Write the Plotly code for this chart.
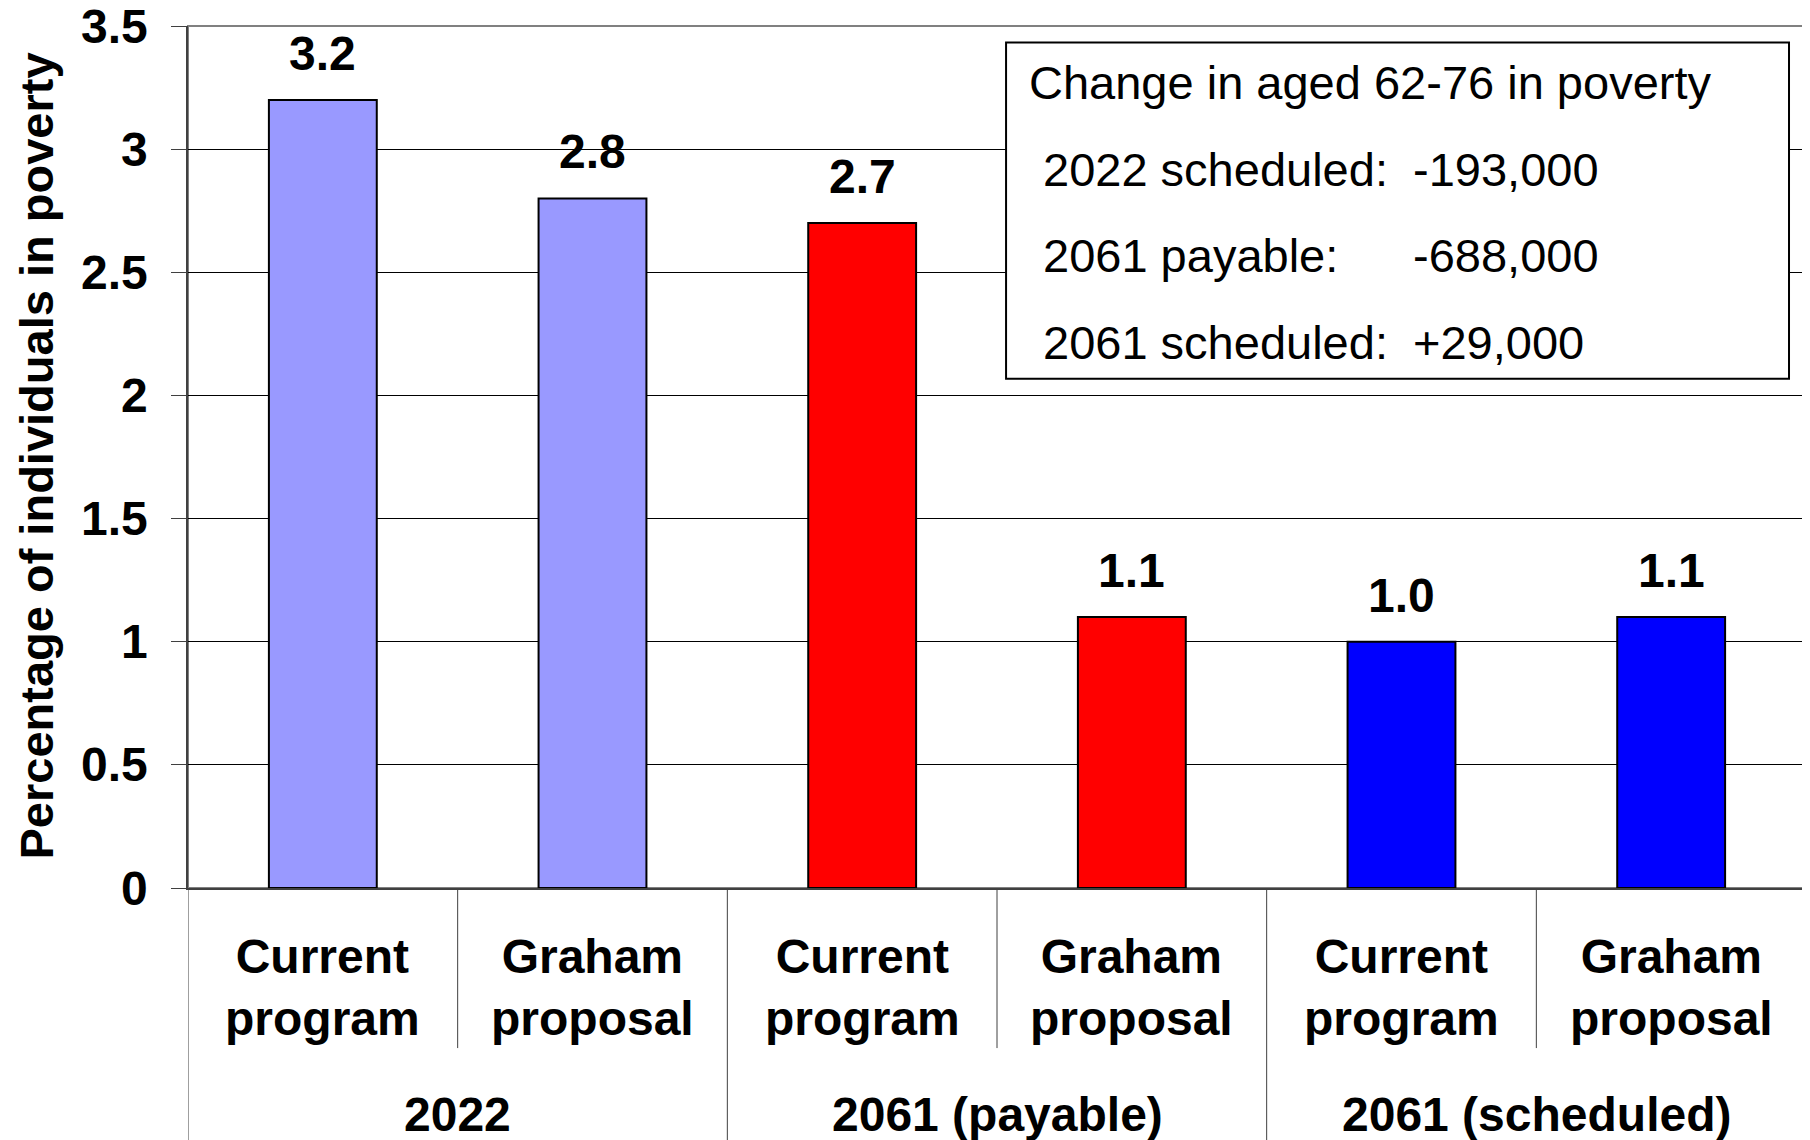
import plotly.graph_objects as go

# data
groups = ['2022', '2061 (payable)', '2061 (scheduled)']
subcats = ['Current<br>program', 'Graham<br>proposal']
values = [3.2, 2.8, 2.7, 1.1, 1.0, 1.1]
value_text = ['3.2', '2.8', '2.7', '1.1', '1.0', '1.1']
group_colors = ['#9999FF', '#FF0000', '#0000FF']
y_ticks = [0, 0.5, 1, 1.5, 2, 2.5, 3, 3.5]

box_title = 'Change in aged 62-76 in poverty'
box_labels = ['2022 scheduled:', '2061 payable:', '2061 scheduled:']
box_values = ['-193,000', '-688,000', '+29,000']

FONT = 'Liberation Sans, Arial, sans-serif'

xs = list(range(len(values)))
colors = [group_colors[i // len(subcats)] for i in xs]

fig = go.Figure()
fig.add_trace(go.Bar(x=xs, y=values, width=0.4,
                     marker=dict(color=colors, line=dict(color='black', width=2)),
                     hoverinfo='y'))

annotations = []
shapes = []

# value labels above bars
for x, v, t in zip(xs, values, value_text):
    annotations.append(dict(x=x, y=v, xref='x', yref='y', text='<b>%s</b>' % t,
                            showarrow=False, yanchor='bottom', yshift=18,
                            font=dict(size=48, color='black', family=FONT)))

# y tick labels (drawn as annotations so the top one is not dropped)
for t in y_ticks:
    annotations.append(dict(x=0, y=t, xref='paper', yref='y', text='<b>%g</b>' % t,
                            showarrow=False, xanchor='right', yanchor='middle',
                            xshift=-38,
                            font=dict(size=48, color='black', family=FONT)))

# category labels
for i, x in enumerate(xs):
    annotations.append(dict(x=x, y=-0.116, xref='x', yref='paper',
                            text='<b>%s</b>' % subcats[i % len(subcats)],
                            showarrow=False, yanchor='middle',
                            font=dict(size=48, color='black', family=FONT)))
    if i % len(subcats) != len(subcats) - 1:
        shapes.append(dict(type='line', xref='x', yref='paper', x0=x + 0.5, x1=x + 0.5,
                           y0=0, y1=-0.1857, line=dict(color='#404040', width=1)))

# group labels and group separators
n = len(subcats)
for g, name in enumerate(groups):
    annotations.append(dict(x=g * n + (n - 1) / 2, y=-0.2623, xref='x', yref='paper',
                            text='<b>%s</b>' % name, showarrow=False, yanchor='middle',
                            font=dict(size=48, color='black', family=FONT)))
for g in range(len(groups) + 1):
    xx = g * n - 0.5
    shapes.append(dict(type='line', xref='x', yref='paper', x0=xx, x1=xx,
                       y0=0, y1=-0.3, line=dict(color='#404040', width=1)))

# plot border (top/right grey)
shapes.append(dict(type='rect', xref='paper', yref='paper', x0=0, x1=1, y0=0, y1=1,
                   line=dict(color='#808080', width=2), layer='below'))

# info box
shapes.append(dict(type='rect', xref='paper', yref='paper', x0=0.5056, x1=0.9895,
                   y0=0.5908, y1=0.981, line=dict(color='black', width=2),
                   fillcolor='white'))
annotations.append(dict(x=0.5185, y=0.9344, xref='paper', yref='paper', text=box_title,
                        showarrow=False, xanchor='left', yanchor='middle',
                        font=dict(size=47, color='black', family=FONT)))
box_y = [0.8334, 0.7336, 0.6326]
for lab, val, yy in zip(box_labels, box_values, box_y):
    annotations.append(dict(x=0.5272, y=yy, xref='paper', yref='paper', text=lab,
                            showarrow=False, xanchor='left', yanchor='middle',
                            font=dict(size=47, color='black', family=FONT)))
    annotations.append(dict(x=0.7559, y=yy, xref='paper', yref='paper', text=val,
                            showarrow=False, xanchor='left', yanchor='middle',
                            font=dict(size=47, color='black', family=FONT)))

# y title
annotations.append(dict(x=-0.0935, y=0.5014, xref='paper', yref='paper',
                        text='<b>Percentage of individuals in poverty</b>', textangle=-90,
                        showarrow=False, xanchor='center', yanchor='middle',
                        font=dict(size=47, color='black', family=FONT)))

fig.update_layout(width=1810, height=1140,
                  margin=dict(l=180, r=12, t=18, b=260),
                  plot_bgcolor='white', paper_bgcolor='white',
                  showlegend=False,
                  font=dict(family=FONT, color='black'),
                  annotations=annotations, shapes=shapes,
                  xaxis=dict(range=[-0.5, len(values) - 0.5], showticklabels=False,
                             showgrid=False, zeroline=False, showline=True,
                             linecolor='#404040', linewidth=2, ticks='',
                             automargin=False),
                  yaxis=dict(range=[0, 3.5], tickvals=y_ticks, showticklabels=False,
                             showgrid=True, gridcolor='black', gridwidth=1,
                             zeroline=False, showline=True, linecolor='#404040',
                             linewidth=2, ticks='outside', ticklen=15,
                             tickcolor='#404040', tickwidth=1, automargin=False))

fig.write_html('out.html')
